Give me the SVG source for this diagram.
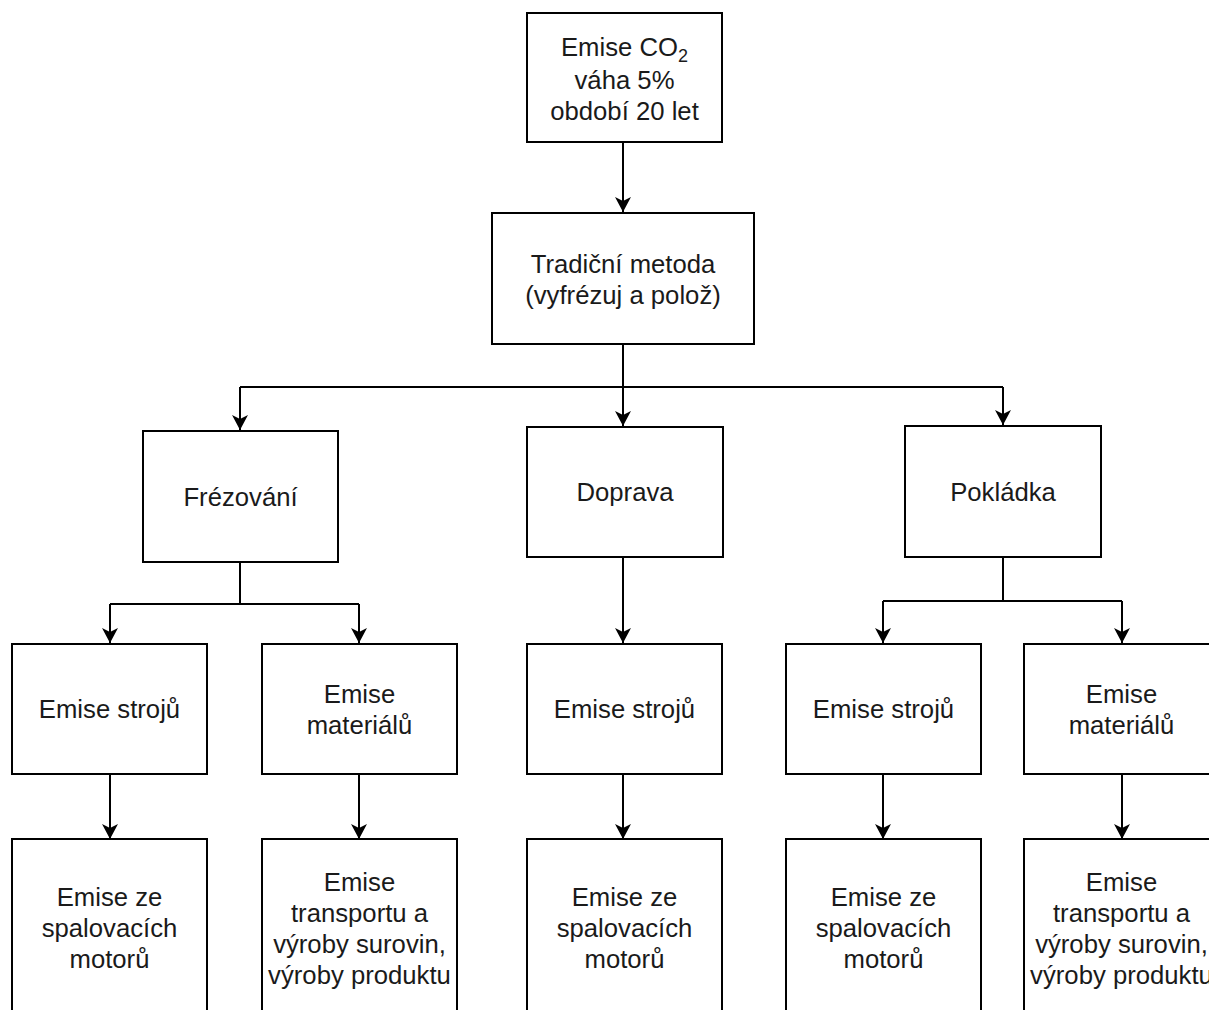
<svg xmlns="http://www.w3.org/2000/svg" width="1209" height="1010" viewBox="0 0 1209 1010">
<style>
.box{fill:#fff;stroke:#000;stroke-width:2}
.t{font-family:"Liberation Sans",Arial,sans-serif;font-size:25.7px;fill:#1a1a1a;text-anchor:middle}
.e{fill:none;stroke:#000;stroke-width:2}
</style>
<defs>
<marker id="arr" markerWidth="20" markerHeight="20" viewBox="0 0 20 20" refX="16" refY="10" orient="auto" markerUnits="userSpaceOnUse">
<path d="M1,2 L16,10 L1,18 L5,10 Z" fill="#000"/>
</marker>
</defs>
<rect width="1209" height="1010" fill="#fff"/>
<g id="connectors">
<path class="e" d="M623,142 V212" marker-end="url(#arr)"/>
<path class="e" d="M623,344 V387"/>
<path class="e" d="M240,387 H1003"/>
<path class="e" d="M240,387 V430" marker-end="url(#arr)"/>
<path class="e" d="M623,387 V426" marker-end="url(#arr)"/>
<path class="e" d="M1003,387 V425" marker-end="url(#arr)"/>
<path class="e" d="M240,562 V604 H110 M240,604 H359"/>
<path class="e" d="M110,604 V643" marker-end="url(#arr)"/>
<path class="e" d="M359,604 V643" marker-end="url(#arr)"/>
<path class="e" d="M623,557 V643" marker-end="url(#arr)"/>
<path class="e" d="M1003,557 V601 H883 M1003,601 H1122"/>
<path class="e" d="M883,601 V643" marker-end="url(#arr)"/>
<path class="e" d="M1122,601 V643" marker-end="url(#arr)"/>
<path class="e" d="M110,774 V839" marker-end="url(#arr)"/>
<path class="e" d="M359,774 V839" marker-end="url(#arr)"/>
<path class="e" d="M623,774 V839" marker-end="url(#arr)"/>
<path class="e" d="M883,774 V839" marker-end="url(#arr)"/>
<path class="e" d="M1122,774 V839" marker-end="url(#arr)"/>
</g>
<g id="n-co2">
<rect class="box" x="527" y="13" width="195" height="129"/>
<text class="t" x="624.5" y="56">Emise CO<tspan font-size="18" dy="6">2</tspan></text>
<text class="t" x="624.5" y="89">váha 5%</text>
<text class="t" x="624.5" y="120">období 20 let</text>
</g>
<g id="n-tradicni">
<rect class="box" x="492" y="213" width="262" height="131"/>
<text class="t" x="623" y="273">Tradiční metoda</text>
<text class="t" x="623" y="304">(vyfrézuj a polož)</text>
</g>
<g id="n-frezovani">
<rect class="box" x="143" y="431" width="195" height="131"/>
<text class="t" x="240.5" y="506">Frézování</text>
</g>
<g id="n-doprava">
<rect class="box" x="527" y="427" width="196" height="130"/>
<text class="t" x="625" y="501">Doprava</text>
</g>
<g id="n-pokladka">
<rect class="box" x="905" y="426" width="196" height="131"/>
<text class="t" x="1003" y="501">Pokládka</text>
</g>
<g id="n-stroje1">
<rect class="box" x="12" y="644" width="195" height="130"/>
<text class="t" x="109.5" y="718">Emise strojů</text>
</g>
<g id="n-material1">
<rect class="box" x="262" y="644" width="195" height="130"/>
<text class="t" x="359.5" y="703">Emise</text>
<text class="t" x="359.5" y="734">materiálů</text>
</g>
<g id="n-stroje2">
<rect class="box" x="527" y="644" width="195" height="130"/>
<text class="t" x="624.5" y="718">Emise strojů</text>
</g>
<g id="n-stroje3">
<rect class="box" x="786" y="644" width="195" height="130"/>
<text class="t" x="883.5" y="718">Emise strojů</text>
</g>
<g id="n-material2">
<rect class="box" x="1024" y="644" width="195" height="130"/>
<text class="t" x="1121.5" y="703">Emise</text>
<text class="t" x="1121.5" y="734">materiálů</text>
</g>
<g id="n-motory1">
<rect class="box" x="12" y="839" width="195" height="185"/>
<text class="t" x="109.5" y="906">Emise ze</text>
<text class="t" x="109.5" y="937">spalovacích</text>
<text class="t" x="109.5" y="968">motorů</text>
</g>
<g id="n-suroviny1">
<rect class="box" x="262" y="839" width="195" height="185"/>
<text class="t" x="359.5" y="891">Emise</text>
<text class="t" x="359.5" y="922">transportu a</text>
<text class="t" x="359.5" y="953">výroby surovin,</text>
<text class="t" x="359.5" y="984">výroby produktu</text>
</g>
<g id="n-motory2">
<rect class="box" x="527" y="839" width="195" height="185"/>
<text class="t" x="624.5" y="906">Emise ze</text>
<text class="t" x="624.5" y="937">spalovacích</text>
<text class="t" x="624.5" y="968">motorů</text>
</g>
<g id="n-motory3">
<rect class="box" x="786" y="839" width="195" height="185"/>
<text class="t" x="883.5" y="906">Emise ze</text>
<text class="t" x="883.5" y="937">spalovacích</text>
<text class="t" x="883.5" y="968">motorů</text>
</g>
<g id="n-suroviny2">
<rect class="box" x="1024" y="839" width="195" height="185"/>
<text class="t" x="1121.5" y="891">Emise</text>
<text class="t" x="1121.5" y="922">transportu a</text>
<text class="t" x="1121.5" y="953">výroby surovin,</text>
<text class="t" x="1121.5" y="984">výroby produktu</text>
</g>
</svg>
